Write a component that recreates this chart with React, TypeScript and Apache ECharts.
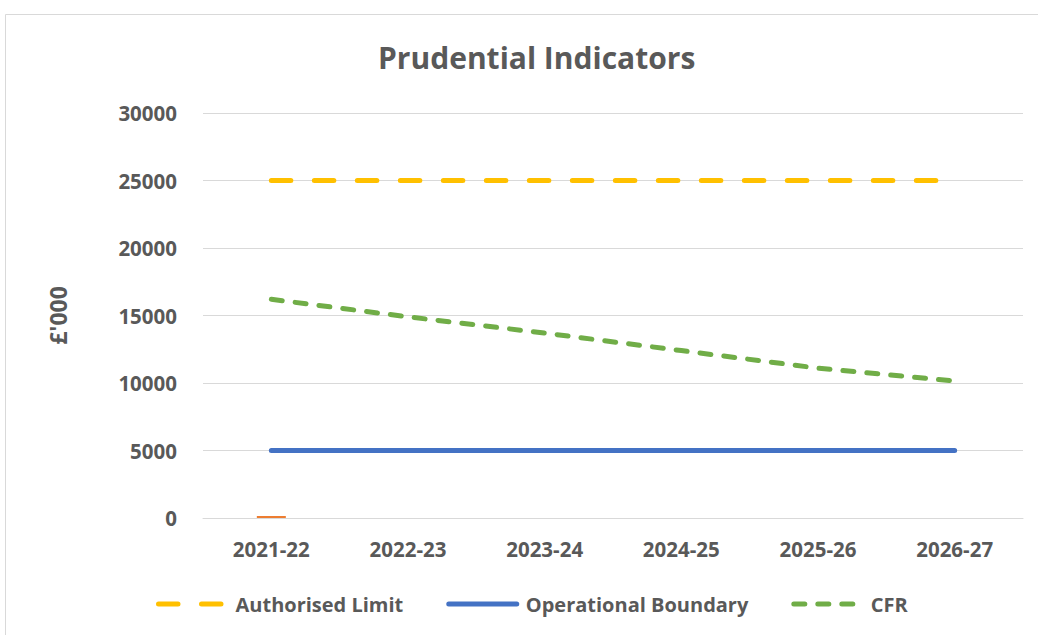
import React, { useEffect, useRef } from "react";
import * as echarts from "echarts";

const categories = ["2021-22", "2022-23", "2023-24", "2024-25", "2025-26", "2026-27"];
const authorisedLimit = [25000, 25000, 25000, 25000, 25000, 25000];
const operationalBoundary = [5000, 5000, 5000, 5000, 5000, 5000];
const cfr = [16200, 14900, 13700, 12400, 11100, 10150];
const otherSeries = [150, null, null, null, null, null];
const yTicks = { min: 0, max: 30000, interval: 5000 };

const FONT = "'Open Sans', Lato, 'Noto Sans', sans-serif";
const GRAY = "#595959";

export default function App() {
  const ref = useRef<HTMLDivElement>(null);
  useEffect(() => {
    document.body.style.margin = "0";
    const chart = echarts.init(ref.current!, null, { renderer: "svg" });
    chart.setOption({
      animation: false,
      backgroundColor: "#ffffff",
      textStyle: { fontFamily: FONT },
      title: {
        text: "Prudential Indicators",
        left: 373,
        top: 37,
        textStyle: { fontFamily: FONT, fontSize: 30, fontWeight: "bold", color: GRAY },
      },
      graphic: [
        {
          type: "rect",
          shape: { x: 5.5, y: 14.5, width: 1060, height: 640 },
          style: { fill: "none", stroke: "#D9D9D9", lineWidth: 1 },
          silent: true,
        },
      ],
      grid: { left: 203, right: 15, top: 113, bottom: 117, containLabel: false },
      legend: {
        bottom: 16,
        left: 151,
        itemWidth: 68,
        itemHeight: 6,
        itemGap: 43,
        data: ["Authorised Limit", "Operational Boundary", "CFR"],
        itemStyle: { opacity: 0 },
        lineStyle: { width: 5, cap: "round" },
        textStyle: { fontFamily: FONT, fontSize: 20, fontWeight: "bold", color: GRAY, padding: [0, 0, 0, 4] },
      },
      xAxis: {
        type: "category",
        data: categories,
        boundaryGap: true,
        axisLine: { show: true, lineStyle: { color: "#D9D9D9", width: 1 } },
        axisTick: { show: false },
        axisLabel: { fontFamily: FONT, fontSize: 20.5, fontWeight: "bold", color: GRAY, margin: 20 },
      },
      yAxis: {
        type: "value",
        min: yTicks.min,
        max: yTicks.max,
        interval: yTicks.interval,
        name: "£'000",
        nameLocation: "middle",
        nameGap: 134,
        nameRotate: 90,
        nameTextStyle: { fontFamily: FONT, fontSize: 23, fontWeight: "bold", color: GRAY },
        axisLine: { show: false },
        axisTick: { show: false },
        splitLine: { lineStyle: { color: "#D9D9D9", width: 1 } },
        axisLabel: {
          fontFamily: FONT,
          fontSize: 20.5,
          fontWeight: "bold",
          color: GRAY,
          margin: 26,
          formatter: (v: number) => String(v),
        },
      },
      series: [
        {
          name: "Other",
          type: "bar",
          data: otherSeries,
          barWidth: 29,
          itemStyle: { color: "#ED7D31" },
          z: 1,
        },
        {
          name: "Authorised Limit",
          type: "line",
          data: authorisedLimit,
          symbol: "none",
          color: "#FFC000",
          lineStyle: { color: "#FFC000", width: 5, type: [19.5, 23.5], cap: "round" },
          z: 3,
        },
        {
          name: "Operational Boundary",
          type: "line",
          data: operationalBoundary,
          symbol: "none",
          color: "#4472C4",
          lineStyle: { color: "#4472C4", width: 5, cap: "round" },
          z: 3,
        },
        {
          name: "CFR",
          type: "line",
          data: cfr,
          symbol: "none",
          color: "#70AD47",
          lineStyle: { color: "#70AD47", width: 5, type: [11, 13], cap: "round" },
          z: 3,
        },
      ],
    });
    return () => chart.dispose();
  }, []);
  return <div ref={ref} style={{ width: 1038, height: 635 }} />;
}
